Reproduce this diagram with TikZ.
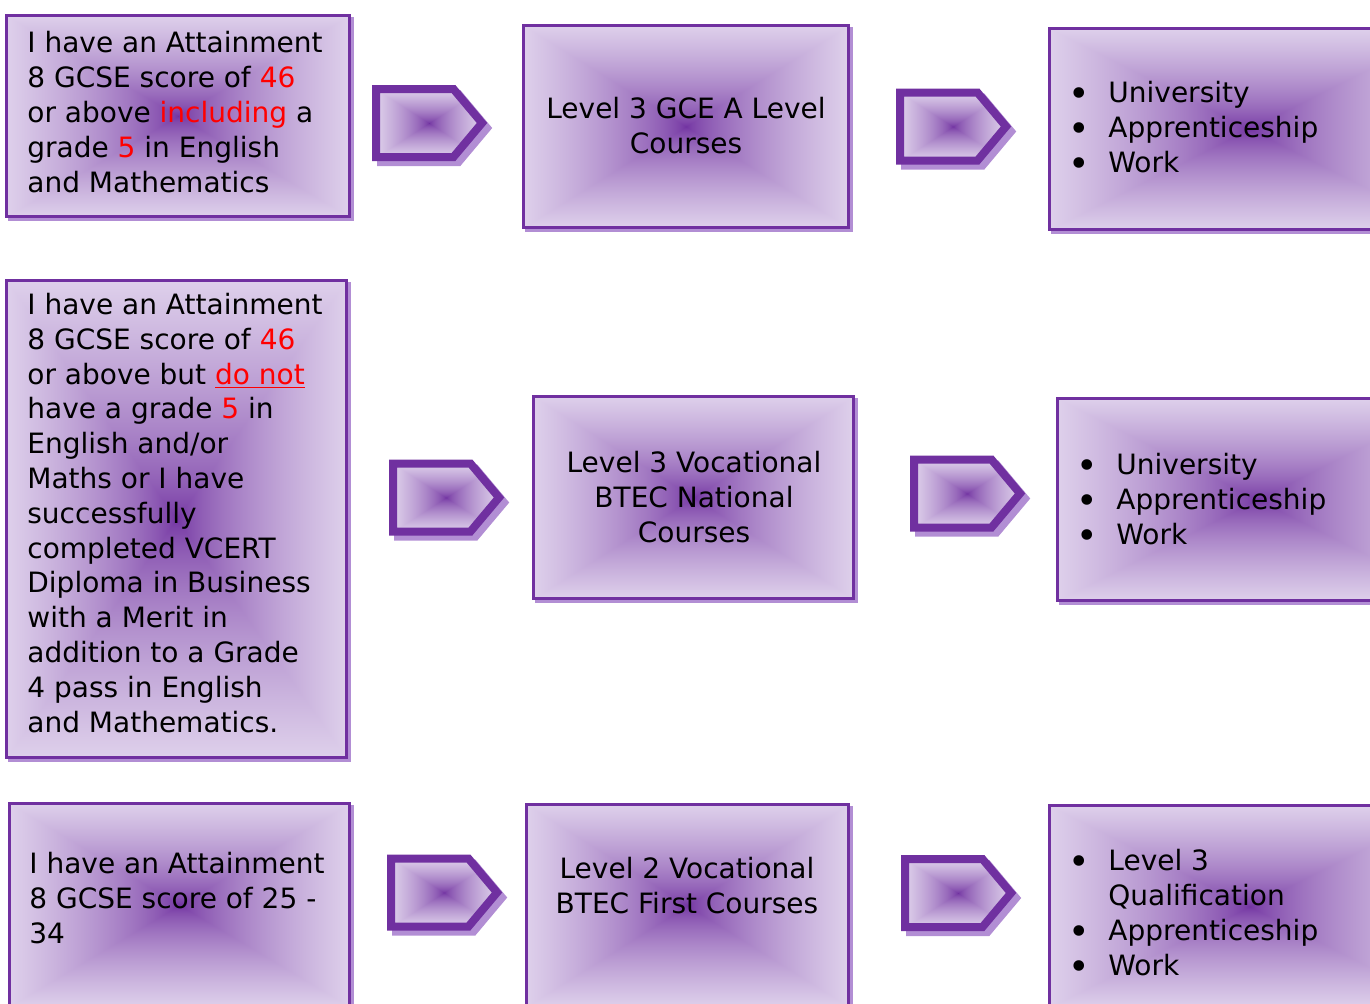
\documentclass[tikz,border=0pt]{standalone}
\usepackage{fontspec}
\setmainfont{DejaVu Sans}
\usepackage{xcolor}
\usepackage{tikz}
\usetikzlibrary{shapes.symbols}
\definecolor{borderpurple}{RGB}{112, 48, 160}
\definecolor{shadowpurple}{RGB}{178, 142, 212}

% gradient from the centre out to the edges, like the boxes
% (tikz fits the path into the inner 50bp of the shading)
\pgfdeclarefunctionalshading{fromcenter}{\pgfpoint{-50bp}{-50bp}}{\pgfpoint{50bp}{50bp}}{}{
  abs exch abs 2 copy lt {exch} if pop 25 div dup 1 gt {pop 1} if 0.65 exp
  dup 0.431 mul 0.439 add exch
  dup 0.627 mul 0.188 add exch
  0.294 mul 0.627 add
}

\newcommand{\redtxt}[1]{\textcolor{red}{#1}}
\newcommand{\bul}{\makebox[20pt][l]{\raisebox{-2pt}{\scalebox{1.3}{\textbullet}}}}

\tikzset{
  cardbox/.style={rectangle, draw=borderpurple, line width=1.5pt, shade, shading=fromcenter,
    inner sep=0pt, anchor=north west,
    preaction={fill=shadowpurple, draw=shadowpurple, transform canvas={shift={(1.5pt,-1.5pt)}}}},
  nextarrow/.style={signal, signal to=east, signal pointer angle=100, draw=borderpurple,
    line width=4pt, shade, shading=fromcenter, minimum width=53pt, minimum height=34pt, inner sep=0pt,
    anchor=west,
    preaction={fill=shadowpurple, draw=shadowpurple, transform canvas={shift={(2.5pt,-2.5pt)}}}},
  % base = baseline of the last line
  cardtext/.style={font=\fontsize{14}{17.4}\selectfont, align=left, anchor=base west, inner sep=0pt},
  centretext/.style={cardtext, align=center, anchor=base}
}

\begin{document}
\begin{tikzpicture}[x=0.5pt, y=-0.5pt]
    \useasboundingbox (0,0) rectangle (1370,1003);
    \clip (0,0) rectangle (1370,1003);

    % Row 1 (46 or above with grade 5)
    \node[cardbox, minimum width=171.5pt, minimum height=100.5pt] (gcseHigh) at (5,14) {};
    \node[nextarrow] (toALevel) at (372,123) {};
    \node[cardbox, minimum width=162.5pt, minimum height=101pt] (aLevel) at (522,24) {};
    \node[nextarrow] (fromALevel) at (896,126.5) {};
    \node[cardbox, minimum width=200pt, minimum height=100.5pt] (aLevelNext) at (1048,27) {};

    \node[cardtext] (gcseHighText) at (27,192) {I have an Attainment\\8 GCSE score of \redtxt{46}\\or above \redtxt{including} a\\grade \redtxt{5} in English\\and Mathematics};
    \node[centretext] (aLevelText) at (686,153) {Level 3 GCE A Level\\Courses};
    \node[cardtext] (aLevelNextText) at (1068,172) {\bul University\\\bul Apprenticeship\\\bul Work};

    % Row 2 (46 or above without grade 5)
    \node[cardbox, minimum width=170pt, minimum height=238.5pt] (gcseMid) at (5,279) {};
    \node[nextarrow] (toBtecNat) at (389,497.5) {};
    \node[cardbox, minimum width=160pt, minimum height=101pt] (btecNat) at (532,395) {};
    \node[nextarrow] (fromBtecNat) at (910,493.5) {};
    \node[cardbox, minimum width=200pt, minimum height=101pt] (btecNatNext) at (1056,397) {};

    \node[cardtext] (gcseMidText) at (27,732) {I have an Attainment\\8 GCSE score of \redtxt{46}\\or above but \redtxt{\underline{do not}}\\have a grade \redtxt{5} in\\English and/or\\Maths or I have\\successfully\\completed VCERT\\Diploma in Business\\with a Merit in\\addition to a Grade\\4 pass in English\\and Mathematics.};
    \node[centretext] (btecNatText) at (694,542) {Level 3 Vocational\\BTEC National\\Courses};
    \node[cardtext] (btecNatNextText) at (1076,544) {\bul University\\\bul Apprenticeship\\\bul Work};

    % Row 3 (25 - 34), boxes run past the page
    \node[cardbox, minimum width=170pt, minimum height=101.5pt] (gcseLow) at (8,802) {};
    \node[nextarrow] (toBtecFirst) at (387,892.5) {};
    \node[cardbox, minimum width=161pt, minimum height=101pt] (btecFirst) at (525,803) {};
    \node[nextarrow] (fromBtecFirst) at (901,893) {};
    \node[cardbox, minimum width=200pt, minimum height=101pt] (btecFirstNext) at (1048,804) {};

    \node[cardtext] (gcseLowText) at (29,943) {I have an Attainment\\8 GCSE score of 25 -\\34};
    \node[centretext] (btecFirstText) at (687,913) {Level 2 Vocational\\BTEC First Courses};
    \node[cardtext] (btecFirstNextText) at (1068,975) {\bul Level 3\\\hspace*{20pt}Qualification\\\bul Apprenticeship\\\bul Work};
\end{tikzpicture}
\end{document}
